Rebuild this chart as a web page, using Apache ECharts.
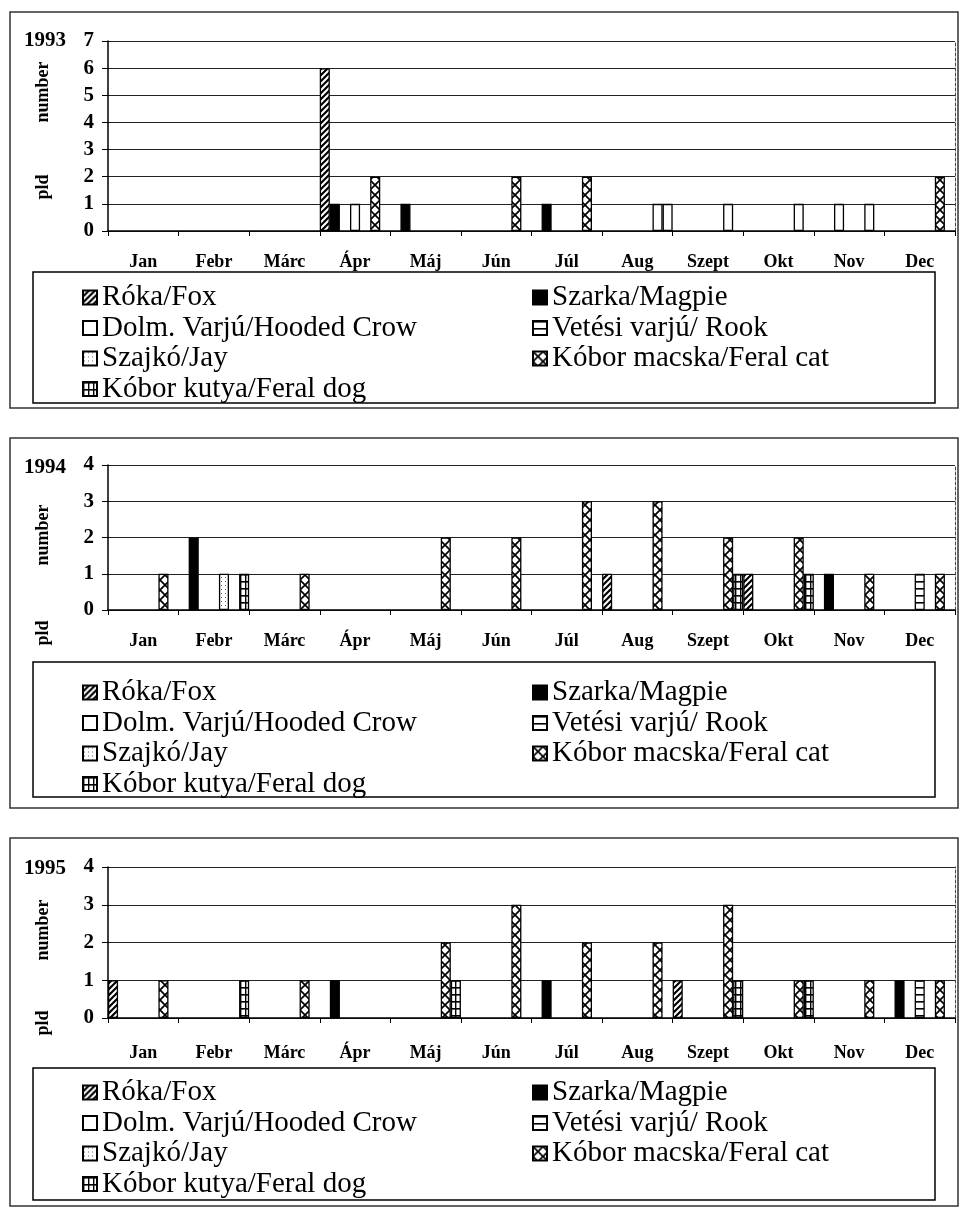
<!DOCTYPE html>
<html>
<head>
<meta charset="utf-8">
<title>Predators by month, 1993–1995</title>
<script src="https://cdn.jsdelivr.net/npm/echarts/dist/echarts.min.js"></script>
<style>
  html, body { margin: 0; padding: 0; background: #fff; }
  #chart { width: 961px; height: 1208px; }
</style>
</head>
<body>
<div id="chart"></div>
<script>
// ---- data -------------------------------------------------------------
const months = ['Jan', 'Febr', 'Márc', 'Ápr', 'Máj', 'Jún', 'Júl', 'Aug', 'Szept', 'Okt', 'Nov', 'Dec'];
const species = [
  'Róka/Fox',
  'Szarka/Magpie',
  'Dolm. Varjú/Hooded Crow',
  'Vetési varjú/ Rook',
  'Szajkó/Jay',
  'Kóbor macska/Feral cat',
  'Kóbor kutya/Feral dog'
];
const years = ['1993', '1994', '1995'];
const yMax = [7, 4, 4];

// 1993
const fox1993    = [0, 0, 0, 6, 0, 0, 0, 0, 0, 0, 0, 0];
const magpie1993 = [0, 0, 0, 1, 1, 0, 1, 0, 0, 0, 0, 0];
const crow1993   = [0, 0, 0, 0, 0, 0, 0, 0, 0, 0, 1, 0];
const rook1993   = [0, 0, 0, 1, 0, 0, 0, 0, 0, 0, 0, 0];
const jay1993    = [0, 0, 0, 0, 0, 0, 0, 0, 0, 0, 0, 0];
const cat1993    = [0, 0, 0, 2, 0, 2, 2, 1, 1, 1, 1, 2];
const dog1993    = [0, 0, 0, 0, 0, 0, 0, 1, 0, 0, 0, 0];
// 1993 bars that carry no hatching: [species index, month index]
const plain1993  = [[3, 3], [5, 7], [5, 8], [5, 9], [5, 10], [6, 7]];

// 1994
const fox1994    = [0, 0, 0, 0, 0, 0, 0, 1, 0, 1, 0, 0];
const magpie1994 = [0, 2, 0, 0, 0, 0, 0, 0, 0, 0, 1, 0];
const crow1994   = [0, 0, 0, 0, 0, 0, 0, 0, 0, 0, 0, 0];
const rook1994   = [0, 0, 0, 0, 0, 0, 0, 0, 0, 0, 0, 1];
const jay1994    = [0, 1, 0, 0, 0, 0, 0, 0, 0, 0, 0, 0];
const cat1994    = [1, 0, 1, 0, 2, 2, 3, 3, 2, 2, 1, 1];
const dog1994    = [0, 1, 0, 0, 0, 0, 0, 0, 1, 1, 0, 0];

// 1995
const fox1995    = [1, 0, 0, 0, 0, 0, 0, 0, 1, 0, 0, 0];
const magpie1995 = [0, 0, 0, 1, 0, 0, 1, 0, 0, 0, 0, 1];
const crow1995   = [0, 0, 0, 0, 0, 0, 0, 0, 0, 0, 0, 0];
const rook1995   = [0, 0, 0, 0, 0, 0, 0, 0, 0, 0, 0, 1];
const jay1995    = [0, 0, 0, 0, 0, 0, 0, 0, 0, 0, 0, 0];
const cat1995    = [1, 0, 1, 0, 2, 3, 2, 2, 3, 1, 1, 1];
const dog1995    = [0, 1, 0, 0, 1, 0, 0, 0, 1, 1, 0, 0];

const yearSeries = [
  [fox1993, magpie1993, crow1993, rook1993, jay1993, cat1993, dog1993],
  [fox1994, magpie1994, crow1994, rook1994, jay1994, cat1994, dog1994],
  [fox1995, magpie1995, crow1995, rook1995, jay1995, cat1995, dog1995]
];
const plainBars = [plain1993, [], []];

// ---- fill patterns ----------------------------------------------------
function tile(w, h, draw) {
  const c = document.createElement('canvas');
  c.width = w; c.height = h;
  const g = c.getContext('2d');
  g.fillStyle = '#fff';
  g.fillRect(0, 0, w, h);
  g.strokeStyle = '#000';
  g.fillStyle = '#000';
  draw(g, w, h);
  return { image: c, repeat: 'repeat' };
}
const fills = [
  // fox: diagonal stripes
  tile(6, 6, (g, w, h) => {
    g.lineWidth = 2.2;
    g.beginPath();
    g.moveTo(-1, h + 1); g.lineTo(w + 1, -1);
    g.moveTo(-2, 2); g.lineTo(2, -2);
    g.moveTo(w - 2, h + 2); g.lineTo(w + 2, h - 2);
    g.stroke();
  }),
  // magpie: solid
  '#000',
  // hooded crow: empty
  '#fff',
  // rook: horizontal rungs
  tile(10, 7, (g, w) => { g.fillRect(0, 0, w, 1.6); }),
  // jay: sparse dots
  tile(4, 4, (g) => { g.fillStyle = '#666'; g.fillRect(1, 1, 1, 1); }),
  // feral cat: cross hatch
  tile(10, 10, (g, w, h) => {
    g.lineWidth = 1.7;
    g.beginPath();
    g.moveTo(0, 0); g.lineTo(w, h);
    g.moveTo(w, 0); g.lineTo(0, h);
    g.stroke();
  }),
  // feral dog: grid
  tile(5, 7, (g, w, h) => { g.fillRect(0, 0, w, 1.6); g.fillRect(0, 0, 1.4, h); })
];

// ---- layout -----------------------------------------------------------
const serif = '"Liberation Serif", "Times New Roman", serif';
const panels = [
  { frameTop: 12,  frameBottom: 408,  gridTop: 41,  gridHeight: 190, legendTop: 278,  boxTop: 272,  boxBottom: 403,  yearY: 41,  numberY: 92,  pldY: 187,  labelMargin: 22 },
  { frameTop: 438, frameBottom: 808,  gridTop: 465, gridHeight: 145, legendTop: 673,  boxTop: 662,  boxBottom: 797,  yearY: 468, numberY: 535, pldY: 633,  labelMargin: 22 },
  { frameTop: 838, frameBottom: 1206, gridTop: 867, gridHeight: 151, legendTop: 1073, boxTop: 1068, boxBottom: 1200, yearY: 869, numberY: 930, pldY: 1023, labelMargin: 26 }
];
const plotLeft = 108, plotWidth = 847;

const grid = [], xAxis = [], yAxis = [], series = [], legend = [], graphic = [];

panels.forEach((p, i) => {
  grid.push({ left: plotLeft, top: p.gridTop, width: plotWidth, height: p.gridHeight, containLabel: false });

  xAxis.push({
    type: 'category', gridIndex: i, data: months,
    axisLine: { lineStyle: { color: '#000', width: 1.5 } },
    axisTick: { show: true, length: 5, lineStyle: { color: '#000', width: 1 } },
    axisLabel: { interval: 0, margin: p.labelMargin, color: '#000', fontFamily: serif, fontWeight: 'bold', fontSize: 18 },
    splitLine: { show: false }
  });

  yAxis.push({
    type: 'value', gridIndex: i, min: 0, max: yMax[i], interval: 1,
    axisLine: { show: true, lineStyle: { color: '#000', width: 1.5 } },
    axisTick: { show: true, length: 6, lineStyle: { color: '#000' } },
    axisLabel: { margin: 14, color: '#000', fontFamily: serif, fontWeight: 'bold', fontSize: 21 },
    splitLine: { show: true, lineStyle: { color: '#222', width: 1.2 } }
  });
  // dashed right edge of the plot
  yAxis.push({
    type: 'value', gridIndex: i, min: 0, max: yMax[i], interval: 1, position: 'right',
    axisLine: { show: true, lineStyle: { color: '#444', width: 1, type: [3, 2] } },
    axisTick: { show: false }, axisLabel: { show: false }, splitLine: { show: false }
  });

  yearSeries[i].forEach((values, s) => {
    const plain = plainBars[i].filter(d => d[0] === s).map(d => d[1]);
    series.push({
      type: 'bar',
      name: species[s],
      xAxisIndex: i,
      yAxisIndex: i * 2,
      barGap: '0%',
      barCategoryGap: '0%',
      animation: false,
      itemStyle: { color: fills[s], borderColor: '#000', borderWidth: 1.3 },
      data: values.map((v, m) => {
        if (!v) return null;
        return plain.includes(m) ? { value: v, itemStyle: { color: '#fff' } } : v;
      })
    });
  });

  const legendText = { color: '#000', fontFamily: serif, fontSize: 29, lineHeight: 28 };
  legend.push({
    orient: 'vertical', left: 77, top: p.legendTop, itemGap: 1.5,
    itemWidth: 14, itemHeight: 14, icon: 'rect', selectedMode: false,
    textStyle: legendText, data: [species[0], species[2], species[4], species[6]]
  });
  legend.push({
    orient: 'vertical', left: 527, top: p.legendTop, itemGap: 1.5,
    itemWidth: 14, itemHeight: 14, icon: 'rect', selectedMode: false,
    textStyle: legendText, data: [species[1], species[3], species[5]]
  });

  graphic.push(
    { type: 'rect', silent: true, z: -1,
      shape: { x: 10, y: p.frameTop, width: 948, height: p.frameBottom - p.frameTop },
      style: { fill: 'none', stroke: '#333', lineWidth: 1.5 } },
    { type: 'rect', silent: true, z: -1,
      shape: { x: 33, y: p.boxTop, width: 902, height: p.boxBottom - p.boxTop },
      style: { fill: 'none', stroke: '#000', lineWidth: 1.5 } },
    { type: 'text', silent: true, x: 24, y: p.yearY,
      style: { text: years[i], font: 'bold 21px ' + serif, fill: '#000', textAlign: 'left', textVerticalAlign: 'middle', verticalAlign: 'middle' } },
    { type: 'text', silent: true, x: 43, y: p.numberY, rotation: Math.PI / 2,
      style: { text: 'number', font: 'bold 18px ' + serif, fill: '#000', textAlign: 'center', textVerticalAlign: 'middle', verticalAlign: 'middle' } },
    { type: 'text', silent: true, x: 43, y: p.pldY, rotation: Math.PI / 2,
      style: { text: 'pld', font: 'bold 18px ' + serif, fill: '#000', textAlign: 'center', textVerticalAlign: 'middle', verticalAlign: 'middle' } }
  );
});

const chart = echarts.init(document.getElementById('chart'), null, { renderer: 'canvas' });
chart.setOption({
  backgroundColor: '#fff',
  animation: false,
  grid, xAxis, yAxis, series, legend, graphic
});
</script>
</body>
</html>
